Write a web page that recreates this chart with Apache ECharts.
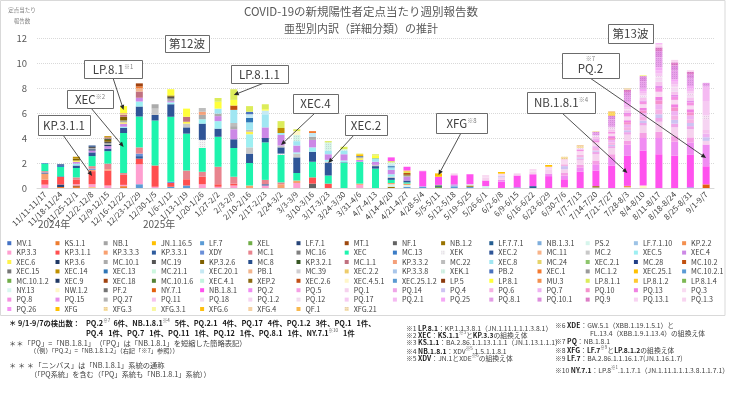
<!DOCTYPE html>
<html><head><meta charset="utf-8">
<script src="https://cdn.jsdelivr.net/npm/echarts@6/dist/echarts.min.js"></script>
<style>html,body{margin:0;padding:0;background:#fff}#c{width:741px;height:394px}</style>
</head><body><div id="c"></div><script>
const FF = "'Noto Sans CJK JP','Noto Sans',sans-serif";
const weeks = ['11/11-11/17','11/18-11/24','11/25-12/1','12/2-12/8','12/9-12/15','12/16-12/22','12/23-12/29','12/30-1/5','1/6-1/12','1/13-1/19',
'1/20-1/26','1/27-2/2','2/3-2/9','2/10-2/16','2/17-2/23','2/24-3/2','3/3-3/9','3/10-3/16','3/17-3/23','3/24-3/30',
'3/31-4/6','4/7-4/13','4/14-4/20','4/21-4/27','4/28-5/4','5/5-5/11','5/12-5/18','5/19-5/25','5/26-6/1','6/2-6/8',
'6/9-6/15','6/16-6/22','6/23-6/29','6/30-7/6','7/7-7/13','7/14-7/20','7/21-7/27','7/28-8/3','8/4-8/10','8/11-8/17',
'8/18-8/24','8/25-8/31','9/1-9/7'];
const yTicks = {min:0, max:12, step:2};

// values per lineage (43 weeks each)
const none = [];
const KS_1_1   = [0,0.08,0.1,0,0,0.15,0,0,0,0, 0,0,0,0,0,0,0,0,0,0, 0,0,0,0,0,0,0,0,0,0, 0,0,0,0,0,0,0,0,0,0, 0,0,0];
const NB_1     = [0,0,0,0,0,0,0,0,0,0, 0,0,0,0,0,0,0,0,0,0, 0,0,0,0,0,0,0,0,0,0, 0,0,0,0,0,0.05,0,0,0,0, 0,0,0];
const JN_1_16_5= [0,0,0,0.05,0,0,0,0,0,0, 0,0,0,0,0,0,0,0,0,0, 0,0,0,0,0,0,0,0,0,0, 0,0,0,0,0,0,0,0,0,0, 0,0,0];
const LF_7     = [0,0,0,0,0,0,0.3,0,0.1,0.2, 0,0,0,0,0,0,0,0,0,0, 0,0,0,0.1,0.1,0,0.1,0.1,0,0, 0.05,0,0,0,0,0,0,0,0,0, 0,0.05,0];
const XEL      = [0,0,0,0,0,0,0,0,0,0, 0,0,0,0,0,0,0,0,0,0, 0,0,0,0,0,0.1,0,0,0,0, 0,0,0,0,0,0,0,0,0,0, 0,0,0];
const LF_7_1   = [0,0.2,0,0,0,0,0,0,0,0, 0,0,0,0,0,0,0,0,0,0, 0,0,0,0,0,0.1,0,0,0,0, 0,0,0,0,0,0,0,0,0,0, 0,0,0];
const MT_1     = [0,0,0.1,0,0,0,0,0,0,0, 0,0,0,0,0,0,0,0,0,0, 0,0,0,0,0,0,0,0,0,0, 0,0,0,0,0,0,0,0,0,0, 0,0,0];
const NF_1     = [0,0,0,0,0,0,0,0,0,0, 0,0,0,0,0,0,0,0.35,0,0, 0,0,0,0,0,0,0,0,0,0, 0,0,0,0,0,0,0,0,0,0, 0,0,0];
const NB_1_2   = [0,0,0,0,0,0,0,0,0,0, 0,0,0,0,0,0,0,0,0,0, 0,0,0.1,0,0,0,0,0.1,0,0, 0,0,0,0,0,0.1,0,0,0,0, 0,0,0];
const LF_7_7_1 = [0,0,0,0,0,0,0,0,0,0, 0,0,0,0,0,0,0,0,0,0, 0,0,0,0,0,0,0,0,0,0, 0,0.15,0,0,0,0,0,0,0,0, 0,0,0];
const NB_1_3_1 = [0,0,0,0,0,0,0,0,0,0, 0,0,0,0,0,0,0,0,0,0, 0,0,0,0,0,0,0.1,0,0,0, 0,0,0,0,0,0,0,0,0,0, 0,0,0];
const PS_2     = [0,0,0,0,0,0,0,0,0,0, 0,0,0,0,0,0,0,0,0,0, 0,0,0.2,0.15,0,0,0,0.1,0.15,0, 0,0,0,0,0,0,0,0.05,0,0, 0,0,0];
const KP_2_2   = [0,0,0,0,0,0,0,0,0,0, 0,0,0,0,0,0,0,0,0,0, 0,0,0,0.1,0,0,0,0,0,0, 0,0,0,0,0,0,0,0.12,0,0, 0,0,0];
const KP_3_3   = [0.27,0,0.1,0.25,0.2,0.1,1.6,0.1,0,0, 0.3,0.1,0.2,0,0.2,0,0.4,0,0,0, 0.25,0,0,0,0,0,0,0,0,0, 0,0,0,0,0,0,0,0,0,0, 0,0,0];
const KP_3_1_1 = [0.4,0.6,0.35,1.05,1.2,0.8,0.45,1.7,0.3,0.5, 0.6,0.2,0.15,0,0,0,0,0.5,0.35,0, 0,0,0,0,0,0,0,0,0,0, 0,0,0,0,0,0,0,0,0,0, 0,0,0];
const KP_3_3_3 = [0.48,0,0,0.1,0.1,0,0,0,0,0, 0,0,0,0.2,0,0.3,0.2,0,0,0, 0.1,0,0.1,0,0,0,0,0,0,0, 0,0,0,0,0,0,0,0,0,0, 0,0,0];
const KP_3_3_1 = [0.05,0.05,0,0,0,0,0.2,0,0,0, 0,0,0,0,0.1,0,0,0,0,0, 0,0,0,0,0,0,0,0,0,0, 0,0,0,0,0,0,0,0,0,0, 0,0,0];
const XDY      = [0.05,0,0,0.1,0,0,0.2,0,0.1,0, 0,0,0,0,0,0,0,0,0,0, 0,0,0,0,0,0,0,0,0,0, 0,0,0,0,0,0,0,0,0,0, 0,0,0];
const MC_1     = [0.1,0,0.2,0.2,0.45,0.15,0.5,0,0,0.7, 0.4,1.4,0.55,0,0.35,0.15,0,0,0,0, 0,0,0,0,0,0,0,0,0,0, 0,0,0,0,0,0,0,0,0,0, 0,0,0];
const XEC      = [0.6,0.75,0.75,0.8,1.0,3.2,2.47,3.6,5.2,2.95, 1.9,2.4,2.3,1.8,3.0,2.2,0.6,1.25,0.65,2.0, 1.75,1.55,0.25,0.1,0,0,0,0,0,0, 0,0,0,0,0,0,0,0,0,0, 0,0,0];
const MC_13    = [0.05,0.1,0,0,0,0,0,0,0,0, 0,0,0,0,0,0,0,0,0,0, 0,0,0,0,0,0,0,0,0,0, 0,0,0,0,0,0,0,0,0,0, 0,0,0];
const XEK      = [0,0,0,0,0,0,0,0,0,0, 0.65,0,0,0,0,0.1,0,0,0,0, 0,0,0,0,0,0,0,0,0,0, 0,0,0,0,0,0,0,0,0,0, 0,0,0];
const XEC_2    = [0,0.12,0.2,0.3,0.2,0.4,0.8,0.45,1.0,0.5, 1.3,0.65,0.7,0.75,0.35,0.5,1.25,0.8,1.0,0.05, 0,0.2,0.15,0.15,0,0,0,0,0,0, 0,0,0,0,0,0,0,0,0,0, 0,0,0];
const MC_2     = [0,0,0,0,0,0,0,0.5,0,0.3, 0,0,0,0.5,0,0.15,0.3,0,0.1,0, 0,0.1,0.1,0,0,0,0,0,0,0, 0,0,0,0,0,0,0,0,0,0, 0,0,0];
const XEC_5    = [0,0,0.15,0,0,0.1,0.4,0,0.15,0, 0.35,0.6,0,1.05,0,0,0.1,0.35,0.15,0.15, 0,0,0.2,0,0,0,0,0,0,0, 0,0,0,0,0,0,0,0,0,0, 0,0,0];
const XEC_4    = [0,0,0.15,0.15,0.2,0.25,0.3,0,0.1,0, 0,0.4,0.8,0,0.85,0.85,0.55,0.6,0.45,0.5, 0.15,0.25,0.35,0.3,0.05,0,0.1,0,0,0, 0,0,0,0,0,0,0,0,0,0, 0,0,0];
const XEC_6    = [0,0,0.1,0,0,0.1,0,0,0,0.15, 0,0,0,0.2,0,0,0,0,0,0, 0.1,0,0,0,0,0,0,0,0,0, 0,0,0,0,0,0,0,0,0,0, 0,0,0];
const KP_3_6   = [0,0,0,0.1,0.1,0,0,0,0,0, 0,0,0,0,0,0,0,0,0,0, 0,0,0,0,0,0,0,0,0,0, 0,0,0,0,0,0,0,0,0,0, 0,0,0];
const MC_10_1  = [0,0,0,0.1,0.15,0.15,0,0.35,0.2,0, 0.35,0.2,0.25,0,0,0,0,0.25,0,0, 0,0,0,0.1,0,0,0,0,0,0, 0,0,0,0,0,0,0,0,0,0, 0,0,0];
const MC_19    = [0,0,0,0.1,0.1,0,0,0,0.15,0, 0,0,0,0,0,0,0,0,0,0, 0,0,0,0,0,0,0,0,0,0, 0,0,0,0,0,0,0,0,0,0, 0,0,0];
const KP_3_2_6 = [0,0,0.15,0,0.15,0.3,0,0,0.1,0, 0,0,0,0,0,0,0,0,0,0, 0,0,0,0.1,0,0,0,0,0,0, 0,0,0,0,0,0,0,0,0,0, 0,0,0];
const MC_8     = [0,0,0,0.1,0,0,0,0,0,0, 0,0,0,0,0,0,0,0,0,0, 0,0,0,0,0,0,0,0,0,0, 0,0,0,0,0,0,0,0,0,0, 0,0,0];
const KP_3_2_1 = [0,0,0,0,0.1,0,0,0,0,0, 0,0,0,0,0,0,0,0,0,0, 0,0,0,0,0,0,0,0,0,0, 0,0,0,0,0,0,0,0,0,0, 0,0,0];
const MC_1_1   = [0,0,0,0,0.1,0.15,0.5,0,0,0.4, 0,0,0,0,0,0,0,0,0,0, 0,0,0,0,0,0,0,0,0,0, 0,0,0,0,0,0,0,0,0,0, 0,0,0];
const KP_3_3_2 = [0,0,0,0,0,0,0,0,0,0, 0.25,0,0,0,0,0,0,0,0,0, 0,0,0,0,0,0,0,0,0,0, 0,0,0,0,0,0,0,0,0,0, 0,0,0];
const MC_22    = [0,0,0,0,0,0,0,0,0,0, 0.3,0,0.25,0.15,0,0,0,0,0,0, 0,0,0,0,0,0,0,0,0,0, 0,0,0,0,0,0,0,0,0,0, 0,0,0];
const XEC_8    = [0,0,0,0,0,0,0,0,0,0, 0,0.4,1.05,0.6,1.05,0.15,0.35,0,0.3,0.3, 0,0.25,0.2,0,0,0,0,0,0,0, 0,0,0,0,0,0,0,0,0,0, 0,0,0];
const MC_24    = [0,0,0,0,0,0.05,0,0,0,0, 0,0,0,0,0,0,0,0,0,0, 0.1,0,0,0,0,0,0,0,0,0, 0,0,0,0,0,0,0,0,0,0, 0,0,0];
const XEC_2_1  = [0,0,0,0,0,0,0,0,0,0, 0,0,0,0,0,0,0,0,0,0, 0,0.05,0,0,0,0,0,0,0,0, 0,0,0,0,0,0,0,0,0,0, 0,0,0];
const MC_10_2  = [0,0,0,0,0,0,0,0,0,0, 0,0,0.35,0,0,0,0,0,0,0, 0,0,0,0.1,0,0,0,0,0,0, 0,0,0,0,0,0,0,0,0,0, 0,0,0];
const XEC_14   = [0,0,0.15,0,0.1,0,0,0,0,0, 0,0,0,0,0,0.4,0,0,0,0, 0,0,0,0,0,0,0,0,0,0, 0,0,0,0,0,0,0,0,0,0, 0,0,0];
const XEC_13   = [0,0,0,0,0,0,0,0,0,0, 0,0,0,0.35,0,0,0,0,0,0, 0,0,0.1,0,0,0,0,0,0,0, 0,0,0,0,0,0,0,0,0,0, 0,0,0];
const XEC_20_1 = [0,0,0,0,0,0,0,0,0,0, 0,0,0,0.3,0.3,0,0,0.3,0,0, 0,0,0.15,0,0,0,0,0,0,0, 0,0,0,0,0,0,0,0,0,0, 0,0,0];
const PB_1     = [0,0,0,0,0,0.1,0.25,0,0,0, 0,0,0,0,0,0,0,0,0,0, 0,0,0,0,0,0,0,0,0,0, 0,0,0,0,0,0,0,0,0,0, 0,0,0];
const XEK_1    = [0,0,0,0,0,0,0,0,0,0, 0,0,0,0,0,0,0.5,0,0.65,0.1, 0,0,0.15,0,0,0,0,0,0,0, 0,0,0,0,0,0,0,0,0,0, 0,0,0];
const PB_2     = [0,0,0,0,0,0,0,0,0,0, 0,0,0,0.2,0,0,0,0,0,0, 0.1,0,0,0,0,0,0,0,0,0, 0,0,0,0,0,0,0,0,0,0, 0,0,0];
const XEC_1    = [0,0,0,0,0,0,0.15,0,0,0, 0,0,0,0,0,0,0,0.15,0,0, 0,0,0,0,0,0,0,0,0,0, 0,0,0,0,0,0,0,0,0,0, 0,0,0];
const XEC_25_1 = [0,0,0,0,0,0,0,0,0,0, 0,0,0,0,0,0,0,0,0,0, 0.15,0,0,0,0,0,0,0,0,0, 0,0,0,0,0,0,0,0,0,0, 0,0,0];
const XEC_18   = [0,0,0,0,0,0,0.25,0,0,0, 0,0,0,0,0,0,0,0,0,0, 0,0,0,0,0,0,0,0,0,0, 0,0,0,0,0,0,0,0,0,0, 0,0,0];
const XEC_4_5_1= [0,0,0,0,0,0,0,0,0,0, 0,0,0,0,0,0,0.3,0,0,0, 0,0,0,0,0,0,0,0,0,0, 0,0,0,0,0,0,0,0,0,0, 0,0,0];
const LP_8_1   = [0,0,0,0,0,0.55,0,0,0.5,0.65, 0,0.55,0.45,0,0.1,0,0,0,0,0, 0,0.2,0,0,0,0,0,0,0,0, 0,0,0,0,0,0,0,0,0,0, 0,0,0];
const LP_8_1_1 = [0,0,0,0,0,0,0,0,0,0, 0,0.3,0.85,0.45,0.4,0.55,0.15,0,0.1,0.2, 0.05,0.1,0.1,0.1,0,0,0,0,0,0, 0,0,0,0,0,0,0,0,0,0, 0,0,0];
const LP_8_1_2 = [0,0,0,0,0,0,0,0,0,0, 0,0,0,0,0,0,0,0,0,0, 0,0,0,0.1,0,0,0,0,0,0, 0,0,0,0,0,0,0,0,0,0, 0,0,0];
const LP_8_1_4 = [0,0,0,0,0,0,0,0,0,0, 0,0,0,0,0,0,0,0,0,0, 0,0,0,0,0,0.05,0,0,0,0, 0,0,0,0,0,0,0,0,0,0, 0,0,0];
const NW_1_2   = [0,0,0,0,0,0,0,0,0,0, 0,0,0,0,0,0,0,0,0,0, 0,0,0,0,0,0,0,0,0,0, 0,0,0,0.05,0,0,0,0,0.2,0, 0,0,0];
const NY_7_1   = [0,0,0,0,0,0,0,0,0,0, 0,0,0,0,0,0,0,0,0,0, 0,0,0,0,0,0,0,0,0,0, 0,0,0,0,0,0,0,0,0,0, 0,0,0.29];
const NB_1_8_1 = [0,0,0,0,0,0,0,0,0,0, 0,0,0,0,0,0,0,0,0,0, 0,0,0.3,0.3,1.2,0.65,0.72,0.8,0.45,0.5, 0.95,0.95,0.95,0.65,1.3,1.25,1.8,2.4,2.8,2.7, 2.6,2.6,1.45];
const PQ_2     = [0,0,0,0,0,0,0,0,0,0, 0,0,0,0,0,0,0,0,0,0, 0,0,0,0,0,0,0,0,0,0.15, 0,0,0.2,0.3,0.35,0.5,0.6,0.9,1.0,1.3, 1.1,1.0,1.74];
const PQ_5     = [0,0,0,0,0,0,0,0,0,0, 0,0,0,0,0,0,0,0,0,0, 0,0,0,0,0,0,0,0,0,0, 0,0,0,0.2,0.2,0.3,0.3,0.3,0.4,0.5, 0.45,0.4,0];
const PQ_1     = [0,0,0,0,0,0,0,0,0,0, 0,0,0,0,0,0,0,0,0,0, 0,0,0,0,0.05,0,0.15,0,0.25,0.2, 0.17,0.2,0.3,0.3,0.4,0.5,0.5,0.5,0.6,0.8, 0.7,0.65,0.29];
const PQ_14    = [0,0,0,0,0,0,0,0,0,0, 0,0,0,0,0,0,0,0,0,0, 0,0,0,0,0,0,0,0,0,0, 0,0,0,0,0.1,0.2,0.15,0.2,0.2,0.3, 0.3,0.25,0];
const PQ_4     = [0,0,0,0,0,0,0,0,0,0, 0,0,0,0,0,0,0,0,0,0, 0,0,0,0,0,0,0,0,0,0.1, 0,0,0,0.25,0.1,0.1,0.1,0.15,0.2,0.3, 0.3,0.25,0.29];
const PQ_6     = [0,0,0,0,0,0,0,0,0,0, 0,0,0,0,0,0,0,0,0,0, 0,0,0,0,0,0,0,0,0,0, 0,0,0,0.15,0.2,0.2,0.2,0.25,0.3,0.4, 0.35,0.3,0];
const PQ_7     = [0,0,0,0,0,0,0,0,0,0, 0,0,0,0,0,0,0,0,0,0, 0,0,0,0,0,0,0,0,0,0, 0,0,0,0,0,0.15,0.2,0.2,0.3,0.4, 0.35,0.3,0.29];
const PQ_10    = [0,0,0,0,0,0,0,0,0,0, 0,0,0,0,0,0,0,0,0,0, 0,0,0,0,0,0,0,0,0,0, 0,0,0,0,0,0,0.15,0.2,0.2,0.3, 0.3,0.25,0];
const PQ_13    = [0,0,0,0,0,0,0,0,0,0, 0,0,0,0,0,0,0,0,0,0, 0,0,0,0,0,0,0,0,0,0, 0,0,0,0,0,0,0.15,0.15,0.2,0.3, 0.25,0.25,0];
const PQ_3     = [0,0,0,0,0,0,0,0,0,0, 0,0,0,0,0,0,0,0,0,0, 0,0,0,0,0,0,0,0,0.19,0.2, 0,0.22,0.25,0.3,0.3,0.3,0.2,0.3,0.3,0.4, 0.35,0.3,0];
const PQ_8     = [0,0,0,0,0,0,0,0,0,0, 0,0,0,0,0,0,0,0,0,0, 0,0,0,0,0,0,0,0,0,0, 0,0,0,0,0.1,0.15,0.15,0.2,0.2,0.3, 0.25,0.25,0];
const PQ_15    = [0,0,0,0,0,0,0,0,0,0, 0,0,0,0,0,0,0,0,0,0, 0,0,0,0,0,0,0,0,0,0, 0,0,0,0,0,0.1,0,0.1,0.1,0.2, 0.15,0.15,0];
const PQ_11    = [0,0,0,0,0,0,0,0,0,0, 0,0,0,0,0,0,0,0,0,0, 0,0,0,0,0,0,0,0,0,0, 0,0,0,0.1,0.1,0.2,0.2,0.2,0.2,0.3, 0.25,0.25,0.29];
const PQ_18    = [0,0,0,0,0,0,0,0,0,0, 0,0,0,0,0,0,0,0,0,0, 0,0,0,0,0,0,0,0,0,0, 0,0,0,0,0,0,0,0,0.1,0.15, 0.15,0.1,0];
const PQ_1_2   = [0,0,0,0,0,0,0,0,0,0, 0,0,0,0,0,0,0,0,0,0, 0,0,0,0,0,0,0,0,0,0, 0,0,0,0,0,0,0,0,0,0.15, 0.15,0.1,0.87];
const PQ_12    = [0,0,0,0,0,0,0,0,0,0, 0,0,0,0,0,0,0,0,0,0, 0,0,0,0,0,0,0,0,0,0, 0,0,0,0,0.05,0.1,0.1,0.1,0.1,0.15, 0.1,0.1,0.29];
const PQ_17    = [0,0,0,0,0,0,0,0,0,0, 0,0,0,0,0,0,0,0,0,0, 0,0,0,0,0,0,0,0,0,0, 0,0,0,0,0,0,0.1,0.15,0.15,0.2, 0.2,0.2,1.16];
const PQ_2_1   = [0,0,0,0,0,0,0,0,0,0, 0,0,0,0,0,0,0,0,0,0, 0,0,0,0,0,0,0,0,0,0, 0,0,0,0,0,0,0,0.2,0.2,0.25, 0.2,0.2,1.16];
const PQ_25    = [0,0,0,0,0,0,0,0,0,0, 0,0,0,0,0,0,0,0,0,0, 0,0,0,0,0,0,0,0,0,0, 0,0,0,0,0,0,0,0.2,0.2,0.25, 0.2,0.2,0];
const PQ_8_1   = [0,0,0,0,0,0,0,0,0,0, 0,0,0,0,0,0,0,0,0,0, 0,0,0,0,0,0,0,0,0,0, 0,0,0,0,0,0.3,0.6,0.5,0.6,0.8, 0.7,0.6,0.29];
const PQ_10_1  = [0,0,0,0,0,0,0,0,0,0, 0,0,0,0,0,0,0,0,0,0, 0,0,0,0,0,0,0,0,0,0, 0,0,0,0,0,0,0.3,0.3,0.4,0.5, 0.4,0.35,0];
const PQ_9     = [0,0,0,0,0,0,0,0,0,0, 0,0,0,0,0,0,0,0,0,0, 0,0,0,0,0,0,0,0,0,0, 0,0,0,0,0,0,0,0.2,0,0.3, 0.25,0.2,0];
const PQ_13_1  = [0,0,0,0,0,0,0,0,0,0, 0,0,0,0,0,0,0,0,0,0, 0,0,0,0,0,0,0,0,0,0, 0,0,0,0,0,0,0,0,0,0.15, 0.1,0.1,0];
const PQ_1_3   = [0,0,0,0,0,0,0,0,0,0, 0,0,0,0,0,0,0,0,0,0, 0,0,0,0,0,0,0,0,0,0, 0,0,0,0,0,0,0,0,0,0.12, 0.1,0.04,0];
const PQ_26    = [0,0,0,0,0,0,0,0,0,0, 0,0,0,0,0,0,0,0,0,0, 0,0,0,0,0,0,0,0,0,0, 0,0,0,0,0,0,0,0,0,0.05, 0,0,0];
const XFG      = [0,0,0,0,0,0,0,0,0,0, 0,0,0,0,0,0,0,0,0,0, 0,0,0,0,0,0.27,0,0,0,0.13, 0,0,0.14,0,0,0,0.1,0,0,0, 0,0,0];
const XFG_3    = [0,0,0,0,0,0,0,0,0,0, 0,0,0,0,0,0,0,0,0,0, 0,0,0,0,0,0,0,0,0,0, 0,0,0,0.2,0.14,0.06,0,0.1,0,0, 0,0,0];
const XFG_3_1  = [0,0,0,0,0,0,0,0,0,0, 0,0,0,0,0,0,0,0,0,0, 0,0,0,0,0,0,0,0,0,0, 0,0,0,0,0,0,0.06,0,0.09,0, 0,0,0];
const XFG_6    = [0,0,0,0,0,0,0,0,0,0, 0,0,0,0,0,0,0,0,0,0, 0,0,0,0,0,0,0,0,0,0, 0,0,0,0,0,0,0.1,0,0,0, 0,0,0];
const XFG_4    = [0,0,0,0,0,0,0,0,0,0, 0,0,0,0,0,0,0,0,0,0, 0,0,0,0,0,0,0,0,0,0, 0,0,0,0,0.1,0,0.1,0,0,0, 0,0,0];

// legend order = stacking order: [name, colour, values]
const defs = [
['MV.1','#4472C4',none],['KS.1.1','#ED7D31',KS_1_1],['NB.1','#A5A5A5',NB_1],['JN.1.16.5','#FFC000',JN_1_16_5],['LF.7','#5B9BD5',LF_7],
['XEL','#70AD47',XEL],['LF.7.1','#264478',LF_7_1],['MT.1','#9E480E',MT_1],['NF.1','#636363',NF_1],['NB.1.2','#997300',NB_1_2],
['LF.7.7.1','#255E91',LF_7_7_1],['NB.1.3.1','#7FAEDC',NB_1_3_1],['PS.2','#D6F5EC',PS_2],['LF.7.1.10','#9DC3E6',none],['KP.2.2','#F4904F',KP_2_2],
['KP.3.3','#FF9FD0',KP_3_3],['KP.3.1.1','#FF4F4F',KP_3_1_1],['KP.3.3.3','#F8A070',KP_3_3_3],['KP.3.3.1','#2E5C9E',KP_3_3_1],['XDY','#6A8FD8',XDY],
['MC.1','#E8848E',MC_1],['MC.16','#7F7F7F',none],['XEC','#1EF4AE',XEC],['MC.13','#3A7CC6',MC_13],['XEK','#F4F4F4',XEK],
['XEC.2','#2F5597',XEC_2],['MC.11','#F8B48A',none],['MC.2','#C8C8C8',MC_2],['XEC.5','#9EEFF2',XEC_5],['XEC.4','#CC88E6',XEC_4],
['XEC.6','#FFF24A',XEC_6],['KP.3.6','#1F3864',KP_3_6],['MC.10.1','#ABABAB',MC_10_1],['MC.19','#545454',MC_19],['KP.3.2.6','#7F6000',KP_3_2_6],
['MC.8','#274E8C',MC_8],['KP.3.2.1','#375623',KP_3_2_1],['MC.1.1','#C0707F',MC_1_1],['KP.3.3.2','#F4A07A',KP_3_3_2],['MC.22','#BDBDBD',MC_22],
['XEC.8','#A0E6F2',XEC_8],['MC.24','#E6D46A',MC_24],['XEC.2.1','#8DC56C',XEC_2_1],['MC.28','#203E86',none],['MC.10.2','#C0500F',MC_10_2],
['XEC.15','#767676',none],['XEC.14','#BF9000',XEC_14],['XEC.13','#2E75B6',XEC_13],['MC.21.1','#CCF7DE',none],['XEC.20.1','#C5E9F4',XEC_20_1],
['PB.1','#F2B58E',PB_1],['MC.39','#D4D4D4',none],['XEC.2.2','#F3D36B',none],['KP.3.3.8','#A9C6EA',none],['XEK.1','#D5F6E6',XEK_1],
['PB.2','#4A72BE',PB_2],['XEC.1','#F47A30',XEC_1],['MC.1.2','#9A9A9A',none],['XEC.25.1','#FFC000',XEC_25_1],['MC.10.2.1','#5B9BD5',none],
['MC.10.1.2','#70AD47',none],['XEC.9','#203864',none],['XEC.18','#A0420F',XEC_18],['MC.10.1.6','#548235',none],['XEC.4.1','#C2F4DF',none],
['XEP.2','#8C6A12',none],['XEC.2.6','#C24F16',none],['XEC.4.5.1','#FFF6C9',XEC_4_5_1],['XEC.25.1.2','#5A9AD2',none],['LP.5','#8B3A0E',none],
['LP.8.1','#FFFF3A',LP_8_1],['MU.3','#F39050',none],['LP.8.1.1','#DCEC5A',LP_8_1_1],['LP.8.1.2','#FFC930',LP_8_1_2],['LP.8.1.4','#7DB854',LP_8_1_4],
['NY.13','#D8F7F0',none],['NW.1.2','#FFF7C6',NW_1_2],['PF.2','#737373',none],['NY.7.1','#E2600E',NY_7_1],['NB.1.8.1','#FF52EE',NB_1_8_1],
['PQ.2','#F08CF2',PQ_2],['PQ.5','#F59FE4',PQ_5],['PQ.1','#F6D2EE',PQ_1],['PQ.14','#EFA6E8',PQ_14],['PQ.4','#CDC3F2',PQ_4],
['PQ.6','#F6B2E4',PQ_6],['PQ.7','#EFB2F2',PQ_7],['PQ.10','#F592CC',PQ_10],['PQ.13','#F081E2',PQ_13],['PQ.3','#F9DBF2',PQ_3],
['PQ.8','#F592E2',PQ_8],['PQ.15','#E68EEA',PQ_15],['PQ.27','#B2B2B2',none],['PQ.11','#F6C2EE',PQ_11],['PQ.18','#F2DAF2',PQ_18],
['PQ.1.2','#F6D4F2',PQ_1_2],['PQ.12','#F7E4F4',PQ_12],['PQ.17','#F6CAF2',PQ_17],['PQ.2.1','#F5BAF2',PQ_2_1],['PQ.25','#F5A8F5',PQ_25],
['PQ.8.1','#E8A2EA',PQ_8_1],['PQ.10.1','#E292E2',PQ_10_1],['PQ.9','#E282CA',PQ_9],['PQ.13.1','#F8D2F2',PQ_13_1],['PQ.1.3','#F8D4F0',PQ_1_3],
['PQ.26','#F592F2',PQ_26],['XFG','#FFC000',XFG],['XFG.3','#F8E0A2',XFG_3],['XFG.3.1','#F8F7A0',XFG_3_1],['XFG.6','#FDBE10',XFG_6],
['XFG.4','#F5D1A3',XFG_4],['QF.1','#F8B84E',none],['XFG.21','#F5E2B4',none]
];
const dotted = ['XEK','MC.39','XEC.2.2','XEK.1','PQ.12','PQ.8.1','PQ.10.1','PQ.9','XFG.3','XFG.21'];

defs.forEach(d => { if (d[2].length && d[2].length !== weeks.length) throw new Error('bad length ' + d[0] + ' ' + d[2].length); });

const chart = echarts.init(document.getElementById('c'));
const series = defs.map(([name, color, data]) => {
  const it = {color};
  if (dotted.includes(name)) it.decal = {symbol:'circle', symbolSize:0.8, dashArrayX:[1,1], dashArrayY:[1,1], color:'rgba(110,50,130,0.35)'};
  return {name, type:'bar', stack:'total', data, barWidth:7, itemStyle:it, emphasis:{disabled:true}};
});
const names = defs.map(d => d[0]);
const legends = [];
for (let k = 0; k < 15; k++) {
  legends.push({orient:'vertical', left:7.3 + 48.2*k, top:238.5, padding:0, itemGap:0, itemWidth:4, itemHeight:4,
    icon:'rect', selectedMode:false, textStyle:{fontSize:7.2, lineHeight:9.4, color:'#404040', fontFamily:FF},
    data: names.filter((n, i) => i % 15 === k)});
}

chart.setOption({
  animation:false,
  textStyle:{fontFamily:FF},
  grid:{left:37, right:27, top:38, bottom:206},
  xAxis:{type:'category', data:weeks, axisTick:{show:false}, axisLine:{lineStyle:{color:'#d9d9d9'}},
    axisLabel:{interval:0, rotate:45, fontSize:8, color:'#404040', margin:5, fontFamily:FF}},
  yAxis:{type:'value', min:yTicks.min, max:yTicks.max, interval:yTicks.step, axisLine:{show:false}, axisTick:{show:false},
    axisLabel:{fontSize:9.5, color:'#595959', margin:10, fontFamily:FF},
    splitLine:{lineStyle:{color:'#d9d9d9', type:'dotted'}}},
  legend: legends,
  series
});

// annotation texts and their targets (week index, value)
const callouts = [
  {t:'第12波', b:[165,35,44,17]},
  {t:'{a|LP.8.1}{s|※1}', b:[84,60,58,18], from:[113,78], to:[5,6.24]},
  {t:'{a|XEC}{s|※2}', b:[67,90,46,18], from:[91,108], to:[5,3.28]},
  {t:'KP.3.1.1', b:[38,115,52,20], from:[63,135], to:[3,0.96]},
  {t:'LP.8.1.1', b:[231,65,57,18], from:[264,83], to:[12,7.44]},
  {t:'XEC.4', b:[293,94,45,19], from:[315,113], to:[15,3.44]},
  {t:'XEC.2', b:[345,115,42,20], from:[354,135], to:[18,2.0]},
  {t:'{a|XFG}{s|※8}', b:[436,113,51,20], from:[461,133], to:[25,1.04]},
  {t:'{a|NB.1.8.1}{s|※4}', b:[527,92,68,21], from:[562,113], to:[37,1.2]},
  {t:'{a|PQ.2}', sup:'※7', b:[562,53,57,25], from:[590,78], to:[42,2.4]},
  {t:'第13波', b:[608,24,45,19]}
];
const richBox = {a:{fontSize:11.5, fill:'#404040', fontFamily:FF, lineHeight:14},
                 s:{fontSize:6, fill:'#808080', fontFamily:FF, verticalAlign:'top', lineHeight:14, padding:[1,0,0,0]}};
const g = [];
g.push({type:'rect', shape:{x:0.5, y:0.5, width:724.5, height:315}, style:{fill:'none', stroke:'#d9d9d9', lineWidth:1}, silent:true, z:1});
g.push({type:'text', x:361, y:12, style:{text:'COVID-19の新規陽性者定点当たり週別報告数', fontSize:11.5, fontFamily:FF, fill:'#595959', align:'center', verticalAlign:'middle'}});
g.push({type:'text', x:361, y:29, style:{text:'亜型別内訳（詳細分類）の推計', fontSize:11, fontFamily:FF, fill:'#595959', align:'center', verticalAlign:'middle'}});
g.push({type:'text', x:22, y:10, style:{text:'定点当たり', fontSize:5.5, fontFamily:FF, fill:'#7f7f7f', align:'center', verticalAlign:'middle'}});
g.push({type:'text', x:22, y:21, style:{text:'報告数', fontSize:5.5, fontFamily:FF, fill:'#7f7f7f', align:'center', verticalAlign:'middle'}});
g.push({type:'text', x:38, y:224, style:{text:'2024年', fontSize:10, fontFamily:FF, fill:'#595959', verticalAlign:'middle'}});
g.push({type:'text', x:143, y:224, style:{text:'2025年', fontSize:10, fontFamily:FF, fill:'#595959', verticalAlign:'middle'}});

callouts.forEach(c => {
  const [bx, by, bw, bh] = c.b;
  if (c.from) {
    const p = chart.convertToPixel({xAxisIndex:0, yAxisIndex:0}, [c.to[0], c.to[1]]);
    const [x1, y1] = c.from, x2 = p[0], y2 = p[1];
    const a = Math.atan2(y2 - y1, x2 - x1), L = 5, W = 2.2;
    const bxp = x2 - L*Math.cos(a), byp = y2 - L*Math.sin(a);
    g.push({type:'line', shape:{x1, y1, x2:bxp, y2:byp}, style:{stroke:'#262626', lineWidth:0.8}, z:50});
    g.push({type:'polygon', shape:{points:[[x2,y2],[bxp + W*Math.sin(a), byp - W*Math.cos(a)],[bxp - W*Math.sin(a), byp + W*Math.cos(a)]]}, style:{fill:'#262626'}, z:50});
  }
  g.push({type:'rect', shape:{x:bx+0.5, y:by+0.5, width:bw, height:bh}, style:{fill:'#fff', stroke:'#6b6b6b', lineWidth:1}, z:60});
  if (c.sup) {
    g.push({type:'text', x:bx+bw/2, y:by+6, style:{text:c.sup, fontSize:6, fontFamily:FF, fill:'#808080', align:'center', verticalAlign:'middle'}, z:61});
    g.push({type:'text', x:bx+bw/2, y:by+16, style:{text:c.t, rich:richBox, fontSize:11.5, fontFamily:FF, fill:'#404040', align:'center', verticalAlign:'middle'}, z:61});
  } else {
    g.push({type:'text', x:bx+bw/2, y:by+bh/2+0.5, style:{text:c.t, rich:richBox, fontSize:11.5, fontFamily:FF, fill:'#404040', align:'center', verticalAlign:'middle'}, z:61});
  }
});

// footnotes
const noteRich = {
  b:{fontWeight:'bold', fill:'#1a1a1a', fontFamily:FF},
  s:{fontSize:4.5, fill:'#555', fontFamily:FF, verticalAlign:'top'}
};
const notes = [
  {x:9, y:323, t:'{b|＊ 9/1-9/7の検出数：}', fs:7.3},
  {x:86, y:323, t:'{b|PQ.2}{s|※7}{b|  6件、NB.1.8.1}{s|※4}{b|   5件、PQ.2.1   4件、PQ.17   4件、PQ.1.2   3件、PQ.1   1件、}', fs:7.3},
  {x:86, y:333, t:'{b|PQ.4   1件、PQ.7   1件、PQ.11   1件、PQ.12   1件、PQ.8.1   1件、NY.7.1}{s|※10}{b|   1件}', fs:7.3},
  {x:9, y:343, t:'＊＊「PQ」=「NB.1.8.1」　（「PQ」は「NB.1.8.1」を短縮した簡略表記）', fs:7.3},
  {x:30, y:351, t:'（（例）「PQ.2」=「NB.1.8.1.2」（右記「※7」参照））', fs:6.2},
  {x:9, y:365, t:'＊ ＊ ＊「ニンバス」は「NB.1.8.1」系統の通称', fs:7.3},
  {x:30, y:374, t:'（「PQ系統」を含む（「PQ」系統も「NB.1.8.1」系統））', fs:7.2},
  {x:406, y:328, t:'※1 {b|LP.8.1}：KP.1.1.3.8.1（JN.1.11.1.1.1.3.8.1）', fs:6.8},
  {x:406, y:335, t:'※2 {b|XEC}：{b|KS.1.1}{s|※3}と{b|KP.3.3}の組換え体', fs:6.8},
  {x:406, y:342, t:'※3 {b|KS.1.1}：BA.2.86.1.1.13.1.1.1（JN.1.13.1.1.1）', fs:6.8},
  {x:406, y:351, t:'※4 {b|NB.1.8.1}：XDV{s|※5}.1.5.1.1.8.1', fs:6.8},
  {x:406, y:358, t:'※5 {b|XDV}：JN.1とXDE{s|※6}の組換え体', fs:6.8},
  {x:555, y:325, t:'※6 {b|XDE}：GW.5.1（XBB.1.19.1.5.1）と', fs:6.8},
  {x:590, y:333, t:'FL.13.4（XBB.1.9.1.13.4）の組換え体', fs:6.8},
  {x:555, y:341, t:'※7 {b|PQ}：NB.1.8.1', fs:6.8},
  {x:555, y:350, t:'※8 {b|XFG}：{b|LF.7}{s|※9}と{b|LP.8.1.2}の組換え体', fs:6.8},
  {x:555, y:358, t:'※9 {b|LF.7}：BA.2.86.1.1.16.1.7(JN.1.16.1.7)', fs:6.8},
  {x:555, y:370, t:'※10 {b|NY.7.1}：LP.8{s|※1}.1.1.7.1（JN.1.11.1.1.1.3.8.1.1.7.1）', fs:6.8}
];
notes.forEach(n => {
  const rich = {b:Object.assign({fontSize:n.fs, lineHeight:n.fs+3}, noteRich.b), s:Object.assign({lineHeight:n.fs+3}, noteRich.s)};
  g.push({type:'text', x:n.x, y:n.y, style:{text:n.t, rich, fontSize:n.fs, lineHeight:n.fs+3, fontFamily:FF, fill:'#404040', verticalAlign:'middle'}});
});

chart.setOption({graphic: g});
</script></body></html>
